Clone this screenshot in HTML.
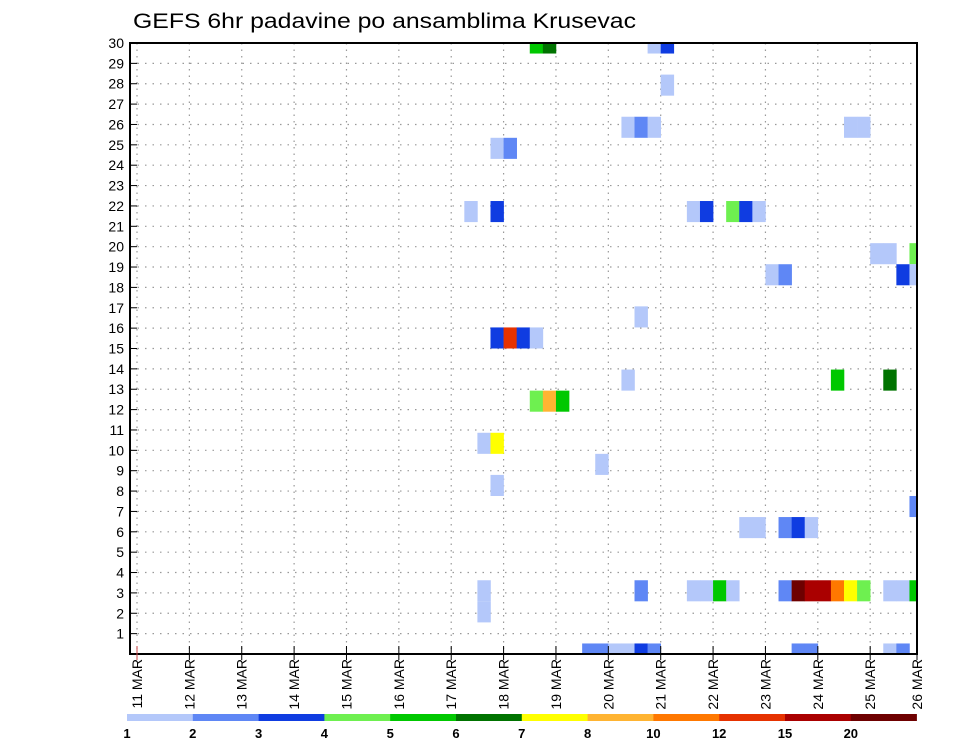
<!DOCTYPE html>
<html><head><meta charset="utf-8"><style>
html,body{margin:0;padding:0;background:#fff;}
svg{display:block;font-family:"Liberation Sans",sans-serif;}
</style></head><body>
<svg id="chart" width="960" height="742" viewBox="0 0 960 742" xmlns="http://www.w3.org/2000/svg">
<text x="133" y="28" font-size="21" textLength="503" lengthAdjust="spacingAndGlyphs" fill="#000">GEFS 6hr padavine po ansamblima Krusevac</text>
<g id="grid"></g>
<g id="cells"></g>
<rect x="130" y="43" width="787" height="611" fill="none" stroke="#000" stroke-width="2"/>
<g id="axes"></g>
<g id="legend"></g>
</svg>
<script>
// data arrays
const dayLabels = ["11 MAR","12 MAR","13 MAR","14 MAR","15 MAR","16 MAR","17 MAR","18 MAR","19 MAR","20 MAR","21 MAR","22 MAR","23 MAR","24 MAR","25 MAR","26 MAR"];
const yTicks = [1,2,3,4,5,6,7,8,9,10,11,12,13,14,15,16,17,18,19,20,21,22,23,24,25,26,27,28,29,30];
const levelColors = ["#b4c8fa","#5f87f5","#0f3ce1","#6ef050","#00c800","#007300","#ffff00","#ffb432","#ff7800","#e63200","#aa0000","#6e0000"];
const levelLabels = ["1","2","3","4","5","6","7","8","10","12","15","20"];
// cells: member index, 6-hour step since 11 MAR 00Z, color level
const cellMember = [29,29,29,29, 27, 25,25,25,25,25, 24,24, 21,21,21,21,21,21,21, 19,19,19, 18,18,18,18, 16, 15,15,15,15, 13,13,13, 12,12,12, 10,10, 9, 8, 7, 6,6,6,6,6, 3,3,3,3,3,3,3,3,3,3,3,3,3,3,3,3, 2, 0,0,0,0,0,0,0,0,0,0];
const cellStep   = [30,31,39,40, 40, 37,38,39,54,55, 27,28, 25,27,42,43,45,46,47, 56,57,59, 48,49,58,59, 38, 27,28,29,30, 37,53,57, 30,31,32, 26,27, 35, 27, 59, 46,47,49,50,51, 26,38,42,43,44,45,49,50,51,52,53,54,55,57,58,59, 26, 34,35,36,37,38,39,50,51,57,58];
const cellLevel  = [4,5,0,2, 0, 0,1,0,0,0, 0,1, 0,2,0,2,3,2,0, 0,0,3, 0,1,2,0, 0, 2,9,2,0, 0,4,5, 3,7,4, 0,6, 0, 0, 1, 0,0,1,2,0, 0,1,0,0,4,0,1,11,10,10,8,6,3,0,0,4, 0, 1,1,0,0,2,1,1,1,0,1];

const NS="http://www.w3.org/2000/svg";
const PL=130, PR=917, PT=43, PB=654;
const x0=137, dayW=52.37;
function xDay(i){return x0+i*dayW;}
function xStep(t){return x0+t*dayW/4;}
function yTick(v){return PB-v*(PB-PT)/30;}
const rowH=(PB-PT)/29;
function yMember(k){return PB-k*rowH;}
function mk(tag,attrs,parent){const e=document.createElementNS(NS,tag);for(const k in attrs)e.setAttribute(k,attrs[k]);parent.appendChild(e);return e;}

const grid=document.getElementById('grid');
yTicks.forEach(v=>{
  const l=mk('line',{x1:PL,x2:PR,y1:yTick(v),y2:yTick(v),stroke:'#999','stroke-width':1.2,'stroke-dasharray':'1.5,6'},grid);
  
  
});
dayLabels.forEach((d,i)=>{
  const x=xDay(i); if(x>PR) return;
  const l=mk('line',{x1:x,x2:x,y1:PT,y2:PB,stroke:'#999','stroke-width':1.2,'stroke-dasharray':'1.5,5'},grid);
  
  
});

const cells=document.getElementById('cells');
const clip=mk('clipPath',{id:'pc'},mk('defs',{},cells));
mk('rect',{x:PL,y:PT,width:PR-PL,height:PB-PT},clip);
const cg=mk('g',{'clip-path':'url(#pc)'},cells);
cellMember.forEach((k,i)=>{
  const x=xStep(cellStep[i]), w=dayW/4;
  const r=mk('rect',{x:x,y:yMember(k)-rowH/2,width:w+0.3,height:rowH,fill:levelColors[cellLevel[i]]},cg);
  
  
});

const axes=document.getElementById('axes');
yTicks.forEach(v=>{
  mk('line',{x1:PL,x2:PL+7,y1:yTick(v),y2:yTick(v),stroke:'#000','stroke-width':1},axes);
  const t=mk('text',{x:PL-6,y:yTick(v)+5,'text-anchor':'end','font-size':14,fill:'#000'},axes);
  t.textContent=v;
  
  
});
dayLabels.forEach((d,i)=>{
  const x=Math.min(xDay(i),PR);
  mk('line',{x1:x,x2:x,y1:PB-8,y2:PB+6,stroke:i===0?'#c44':'#000','stroke-width':1},axes);
  const t=mk('text',{transform:`translate(${x+5},${PB+5}) rotate(-90)`,'text-anchor':'end','font-size':14,fill:'#000'},axes);
  t.textContent=d;
  
  
});

const leg=document.getElementById('legend');
const lx=127, lw=65.8;
levelColors.forEach((c,i)=>{
  const r=mk('rect',{x:lx+i*lw,y:714,width:lw+0.3,height:7,fill:c},leg);
  
  
  const t=mk('text',{x:lx+i*lw,y:738,'text-anchor':'middle','font-size':13,'font-weight':'bold',fill:'#000'},leg);
  t.textContent=levelLabels[i];
  
  
});
</script>
</body></html>
